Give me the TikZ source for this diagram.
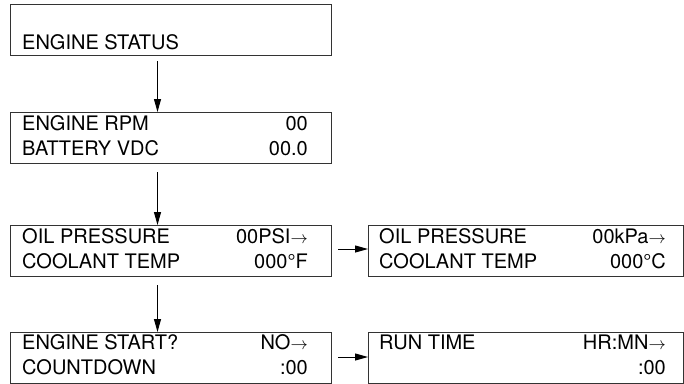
\documentclass[tikz,border=0pt]{standalone}
\usepackage{fontspec}
\setmainfont{TeX Gyre Heros}
\usetikzlibrary{arrows.meta}
\tikzset{
  lcd/.style={draw=black!80, line width=1pt, minimum width=321pt, minimum height=51pt, anchor=north west, inner sep=0pt},
  rlcd/.style={lcd, minimum width=315pt},
  txt/.style={inner sep=0pt, font=\fontsize{20}{20}\selectfont},
  flow/.style={line width=1pt, -{Triangle[length=13pt,width=7pt]}}
}
\newcommand\nextarrow{{\fontsize{17}{17}\selectfont$\rightarrow$}}
\begin{document}
\begin{tikzpicture}[x=1pt,y=-1pt]
\useasboundingbox (0,0) rectangle (684,383);
% display screens
\node[lcd] (status) at (10,4) {};
\node[lcd] (rpm) at (10,112) {};
\node[lcd] (oil) at (10,225) {};
\node[lcd] (start) at (10,332) {};
\node[rlcd] (kpa) at (368,225) {};
\node[rlcd] (run) at (368,332) {};
% screen texts
\node[txt,anchor=base west] (statusA) at ([shift={(12,45)}]status.north west) {ENGINE STATUS};
\node[txt,anchor=base west] (rpmA) at ([shift={(12,18)}]rpm.north west) {ENGINE RPM};
\node[txt,anchor=base west] (rpmB) at ([shift={(12,43)}]rpm.north west) {BATTERY VDC};
\node[txt,anchor=base east] (rpmC) at ([shift={(-24,18)}]rpm.north east) {00};
\node[txt,anchor=base east] (rpmD) at ([shift={(-24,43)}]rpm.north east) {00.0};
\node[txt,anchor=base west] (oilA) at ([shift={(12,18)}]oil.north west) {OIL PRESSURE};
\node[txt,anchor=base west] (oilB) at ([shift={(12,43)}]oil.north west) {COOLANT TEMP};
\node[txt,anchor=base east] (oilC) at ([shift={(-24,18)}]oil.north east) {00PSI\nextarrow};
\node[txt,anchor=base east] (oilD) at ([shift={(-24,43)}]oil.north east) {000°F};
\node[txt,anchor=base west] (startA) at ([shift={(12,17)}]start.north west) {ENGINE START?};
\node[txt,anchor=base west] (startB) at ([shift={(12,42)}]start.north west) {COUNTDOWN};
\node[txt,anchor=base east] (startC) at ([shift={(-24,17)}]start.north east) {NO\nextarrow};
\node[txt,anchor=base east] (startD) at ([shift={(-24,42)}]start.north east) {:00};
\node[txt,anchor=base west] (kpaA) at ([shift={(11,18)}]kpa.north west) {OIL PRESSURE};
\node[txt,anchor=base west] (kpaB) at ([shift={(11,43)}]kpa.north west) {COOLANT TEMP};
\node[txt,anchor=base east] (kpaC) at ([shift={(-18,18)}]kpa.north east) {00kPa\nextarrow};
\node[txt,anchor=base east] (kpaD) at ([shift={(-18,43)}]kpa.north east) {000°C};
\node[txt,anchor=base west] (runA) at ([shift={(11,17)}]run.north west) {RUN TIME};
\node[txt,anchor=base east] (runC) at ([shift={(-18,17)}]run.north east) {HR:MN\nextarrow};
\node[txt,anchor=base east] (runD) at ([shift={(-18,42)}]run.north east) {:00};
% arrows
\draw[flow] ([xshift=-13.5pt,yshift=-5pt]status.south) -- ([xshift=-13.5pt]rpm.north);
\draw[flow] ([xshift=-13.5pt,yshift=-8pt]rpm.south) -- ([xshift=-13.5pt]oil.north);
\draw[flow] ([xshift=-13.5pt,yshift=-8pt]oil.south) -- ([xshift=-13.5pt]start.north);
\draw[flow] ([xshift=6pt,yshift=2pt]oil.east) -- ([yshift=2pt]kpa.west);
\draw[flow] ([xshift=6pt,yshift=1pt]start.east) -- ([yshift=1pt]run.west);
\end{tikzpicture}
\end{document}
